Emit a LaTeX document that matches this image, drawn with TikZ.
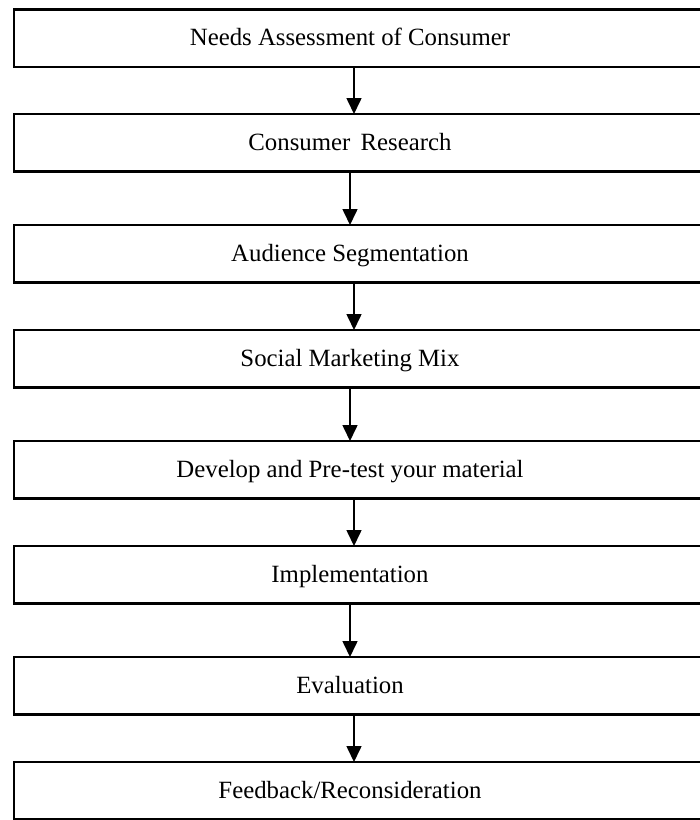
\documentclass[tikz,border=0pt]{standalone}
\usepackage{fontspec}
\setmainfont{Liberation Serif}
\usetikzlibrary{arrows.meta}
\begin{document}
\begin{tikzpicture}[x=1pt,y=-1pt,
  stepbox/.style={draw=black, line width=2.6pt, minimum width=700pt, minimum height=57.5pt, anchor=north west, inner sep=0pt, outer sep=0pt},
  lbl/.style={font=\fontsize{24.8}{29}\selectfont, anchor=base, inner sep=0pt},
  arr/.style={line width=1.6pt, -{Triangle[width=15pt,length=16pt]}}]
\useasboundingbox (0,0) rectangle (700,820);
\clip (0,0) rectangle (700,820);
\node[stepbox] (b1) at (14,9.3) {};
\node[stepbox] (b2) at (14,114) {};
\node[stepbox] (b3) at (14,225) {};
\node[stepbox] (b4) at (14,330) {};
\node[stepbox] (b5) at (14,441) {};
\node[stepbox] (b6) at (14,546) {};
\node[stepbox] (b7) at (14,657) {};
\node[stepbox] (b8) at (14,762) {};
\node[lbl] (t1) at (350,45.3) {Needs Assessment of Consumer};
\node[lbl] (t2) at (350,150) {Consumer\, Research};
\node[lbl] (t3) at (350,261) {Audience Segmentation};
\node[lbl] (t4) at (350,366) {Social Marketing Mix};
\node[lbl] (t5) at (350,477) {Develop and Pre-test your material};
\node[lbl] (t6) at (350,582) {Implementation};
\node[lbl] (t7) at (350,693) {Evaluation};
\node[lbl] (t8) at (350,798) {Feedback/Reconsideration};
\draw[arr] ([xshift=-10pt]b1.south) -- ([xshift=-10pt]b2.north);
\draw[arr] ([xshift=-14pt]b2.south) -- ([xshift=-14pt]b3.north);
\draw[arr] ([xshift=-10pt]b3.south) -- ([xshift=-10pt]b4.north);
\draw[arr] ([xshift=-14pt]b4.south) -- ([xshift=-14pt]b5.north);
\draw[arr] ([xshift=-10pt]b5.south) -- ([xshift=-10pt]b6.north);
\draw[arr] ([xshift=-14pt]b6.south) -- ([xshift=-14pt]b7.north);
\draw[arr] ([xshift=-10pt]b7.south) -- ([xshift=-10pt]b8.north);
\end{tikzpicture}
\end{document}
